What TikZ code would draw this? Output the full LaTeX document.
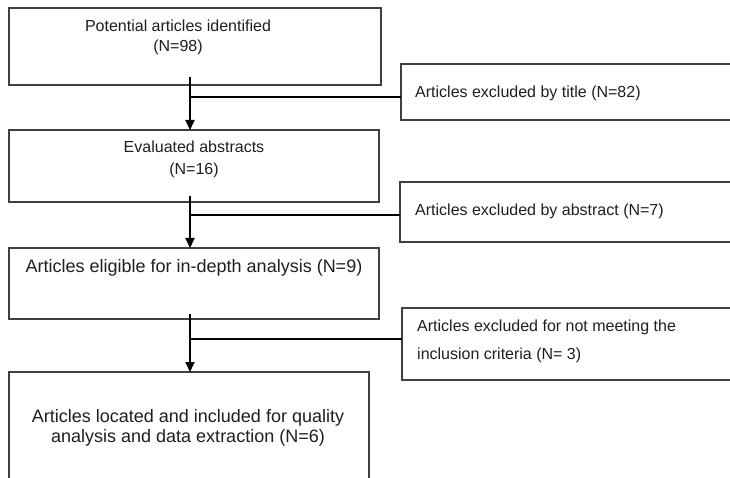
\documentclass[tikz,border=0pt]{standalone}
\usepackage{fontspec}
\setmainfont{Liberation Sans}
\usetikzlibrary{arrows.meta}
\definecolor{boxgrey}{gray}{0.25}
\definecolor{textgrey}{gray}{0.12}
\begin{document}
\begin{tikzpicture}[x=1pt,y=-1pt,
  box/.style={draw=boxgrey,line width=1.3pt,fill=white,anchor=north west,inner sep=0pt,outer sep=0pt},
  txt/.style={anchor=base,inner sep=0pt,text=textgrey,font=\fontsize{16}{19}\selectfont},
  bigtxt/.style={txt,font=\fontsize{18}{20}\selectfont},
  flow/.style={draw=black,line width=2pt,-{Triangle[width=9pt,length=10pt]}},
  branch/.style={draw=black,line width=2pt}]
\fill[white] (0,0) rectangle (730,478);
\useasboundingbox (0,0) rectangle (730,478);
\clip (0,0) rectangle (730,478);
% boxes
\node[box,minimum width=372pt,minimum height=77pt] (b1) at (9,8) {};
\node[box,minimum width=360pt,minimum height=56pt] (e1) at (401,64) {};
\node[box,minimum width=370pt,minimum height=72pt] (b2) at (9,130) {};
\node[box,minimum width=360pt,minimum height=60pt] (e2) at (400,182) {};
\node[box,minimum width=370pt,minimum height=71pt] (b3) at (9,248) {};
\node[box,minimum width=360pt,minimum height=72pt] (e3) at (402,308) {};
\node[box,minimum width=360pt,minimum height=130pt] (b4) at (9,372) {};
% texts
\node[txt] (t1a) at (178,32) {Potential articles identified};
\node[txt] (t1b) at (178,52) {(N=98)};
\node[txt] (t2a) at (194,152.5) {Evaluated abstracts};
\node[txt] (t2b) at (194,175) {(N=16)};
\node[bigtxt] (t3) at (194,272.5) {Articles eligible for in-depth analysis (N=9)};
\node[txt,anchor=base west] (te1) at (415,97.5) {Articles excluded by title (N=82)};
\node[txt,anchor=base west] (te2) at (415,215.5) {Articles excluded by abstract (N=7)};
\node[txt,anchor=base west] (te3a) at (417,331) {Articles excluded for not meeting the};
\node[txt,anchor=base west] (te3b) at (417,359) {inclusion criteria (N= 3)};
\node[bigtxt] (t4a) at (188,422.5) {Articles located and included for quality};
\node[bigtxt] (t4b) at (188,442.5) {analysis and data extraction (N=6)};
% trunk start points and junctions
\coordinate (s1) at (190,77);
\coordinate (s2) at (190,196);
\coordinate (s3) at (190,314);
\coordinate (j1) at (190,97);
\coordinate (j2) at (190,215);
\coordinate (j3) at (190,339);
% connectors
\draw[flow] (s1) -- (s1 |- b2.north);
\draw[flow] (s2) -- (s2 |- b3.north);
\draw[flow] (s3) -- (s3 |- b4.north);
\draw[branch] (j1) -- (j1 -| e1.west);
\draw[branch] (j2) -- (j2 -| e2.west);
\draw[branch] (j3) -- (j3 -| e3.west);
\end{tikzpicture}
\end{document}
